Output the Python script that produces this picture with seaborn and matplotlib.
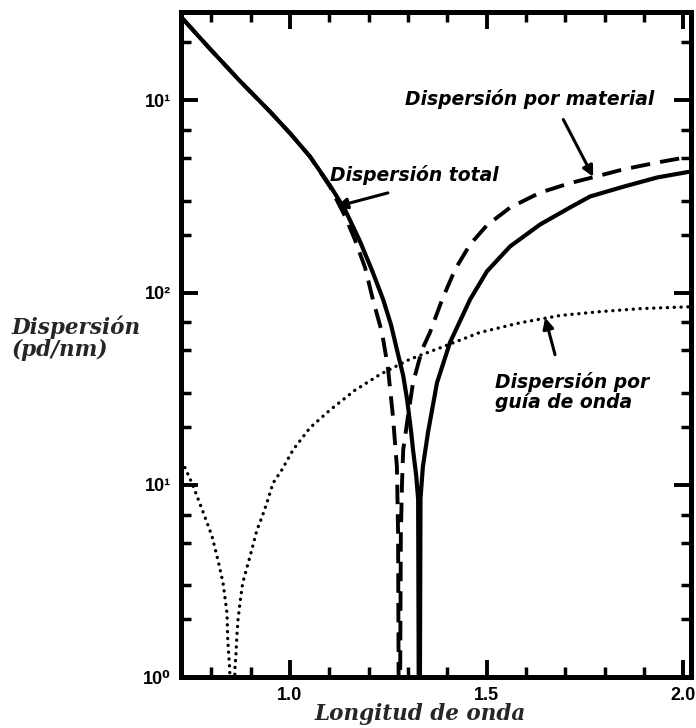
import matplotlib
matplotlib.use("Agg")
import matplotlib.pyplot as plt
from matplotlib.ticker import LogLocator, MultipleLocator, NullFormatter
import pandas as pd
import seaborn as sns

# Total dispersion |D| (solid curve), wavelength in um
total_wl = [0.728, 0.796, 0.873, 0.949, 1.000, 1.051, 1.102, 1.140, 1.178, 1.209,
            1.237, 1.257, 1.272, 1.288, 1.298, 1.308, 1.313, 1.321, 1.326, 1.329,
            1.332, 1.338, 1.351, 1.374, 1.407, 1.458, 1.501, 1.560, 1.636, 1.712,
            1.763, 1.847, 1.934, 2.018]
total_d = [2650, 1860, 1260, 875, 675, 510, 360, 270, 185, 130,
           92, 68, 50.5, 37, 27.7, 19, 15.2, 11.2, 8.4, 0.1,
           8.5, 12.4, 18.7, 34, 55, 92, 129, 174, 226, 277,
           316, 355, 397, 426]

# Material dispersion |D_M| (dashed curve)
mat_wl = [0.728, 0.796, 0.873, 0.949, 1.000, 1.051, 1.102, 1.140, 1.165, 1.191,
          1.211, 1.234, 1.249, 1.262, 1.272, 1.275, 1.278, 1.282, 1.285, 1.288,
          1.300, 1.313, 1.336, 1.356, 1.387, 1.420, 1.458, 1.501, 1.560, 1.636,
          1.712, 1.771, 1.847, 1.934, 2.018]
mat_d = [2650, 1860, 1260, 875, 675, 510, 355, 250, 189, 135,
         92, 62, 41, 22.6, 12.4, 5.6, 0.1, 5.5, 10.2, 15.2,
         22.6, 34, 50.5, 62, 92, 132, 178, 224, 277, 331,
         371, 398, 437, 475, 510]

# Waveguide dispersion |D_W| (dotted curve)
wg_wl = [0.733, 0.751, 0.766, 0.784, 0.802, 0.817, 0.830, 0.840, 0.842, 0.847,
         0.853, 0.860, 0.863, 0.865, 0.868, 0.873, 0.880, 0.891, 0.903, 0.916,
         0.929, 0.941, 0.957, 0.980, 1.008, 1.051, 1.102, 1.165, 1.229, 1.305,
         1.382, 1.483, 1.585, 1.687, 1.789, 1.891, 2.018]
wg_d = [12.3, 10.2, 8.5, 6.8, 5.4, 4.06, 3.09, 2.15, 1.56, 1.09,
        0.1, 1.09, 1.33, 1.62, 1.98, 2.43, 3.09, 3.73, 4.58, 5.8,
        6.8, 8.0, 10.2, 12.0, 15.2, 19.8, 24.5, 31, 37.5, 45,
        51.6, 62, 69.6, 76, 79.6, 82.5, 84.4]

y_ticks = [1, 10, 100, 1000]
y_tick_labels = ["10⁰", "10¹", "10²", "10¹"]
x_ticks = [1.0, 1.5, 2.0]
x_tick_labels = ["1.0", "1.5", "2.0"]

sns.set_style("ticks")
plt.rcParams["font.family"] = ["DejaVu Sans"]

fig = plt.figure(figsize=(6.96, 7.28), dpi=100)
ax = fig.add_axes([0.260, 0.070, 0.733, 0.9135])

df_total = pd.DataFrame({"wl": total_wl, "d": total_d})
df_mat = pd.DataFrame({"wl": mat_wl, "d": mat_d})
df_wg = pd.DataFrame({"wl": wg_wl, "d": wg_d})

sns.lineplot(data=df_total, x="wl", y="d", ax=ax, color="black", lw=3.0,
             solid_joinstyle="round")
sns.lineplot(data=df_mat, x="wl", y="d", ax=ax, color="black", lw=2.8,
             linestyle=(0, (5, 2.6)), dash_capstyle="butt")
sns.lineplot(data=df_wg, x="wl", y="d", ax=ax, color="black", lw=2.4,
             linestyle=(0, (0.05, 2.0)), dash_capstyle="round")

ax.set_yscale("log")
ax.set_xlim(0.723, 2.020)
ax.set_ylim(1, 2880)

tick_font = dict(fontsize=13, fontweight="bold",
                 family=["Liberation Sans", "DejaVu Sans"])
ax.set_yticks(y_ticks)
ax.set_yticklabels(y_tick_labels, **tick_font)
ax.yaxis.set_minor_locator(LogLocator(base=10, subs=(2, 3, 5, 7)))
ax.yaxis.set_minor_formatter(NullFormatter())

ax.set_xticks(x_ticks)
ax.set_xticklabels(x_tick_labels, **tick_font)
ax.xaxis.set_minor_locator(MultipleLocator(0.1))

ax.tick_params(which="both", direction="in", top=True, right=True,
               labelcolor="black", color="black")
ax.tick_params(which="major", length=12, width=2.8, pad=7)
ax.tick_params(which="minor", length=7, width=2.5)
for side in ax.spines.values():
    side.set_linewidth(3.6)
    side.set_color("black")

ax.set_xlabel("")
ax.set_ylabel("")

# axis titles in a slanted serif
fig.text(0.017, 1 - 338 / 728, "Dispersión\n(pd/nm)", ha="left", va="center",
         fontsize=15.5, fontweight="bold", fontstyle="italic",
         family="DejaVu Serif", linespacing=1.0)
fig.text(420 / 696, 1 - 714 / 728, "Longitud de onda", ha="center", va="center",
         fontsize=15.5, fontweight="bold", fontstyle="italic", family="DejaVu Serif")

label_kw = dict(fontsize=13.5, fontweight="bold", fontstyle="italic", color="black")
arrow_kw = dict(arrowstyle="-|>", color="black", lw=2.2, mutation_scale=16,
                shrinkA=0, shrinkB=0)

ax.text(1.293, 1010, "Dispersión por material", ha="left", va="center", **label_kw)
ax.annotate("", xy=(1.771, 400), xytext=(1.695, 795), arrowprops=arrow_kw)

ax.text(1.102, 410, "Dispersión total", ha="left", va="center", **label_kw)
ax.annotate("", xy=(1.118, 280), xytext=(1.249, 330), arrowprops=arrow_kw)

ax.text(1.522, 30.4, "Dispersión por\nguía de onda", ha="left", va="center",
        linespacing=1.0, **label_kw)
ax.annotate("", xy=(1.649, 74), xytext=(1.674, 47.5), arrowprops=arrow_kw)

fig.savefig("out.png", dpi=100)
